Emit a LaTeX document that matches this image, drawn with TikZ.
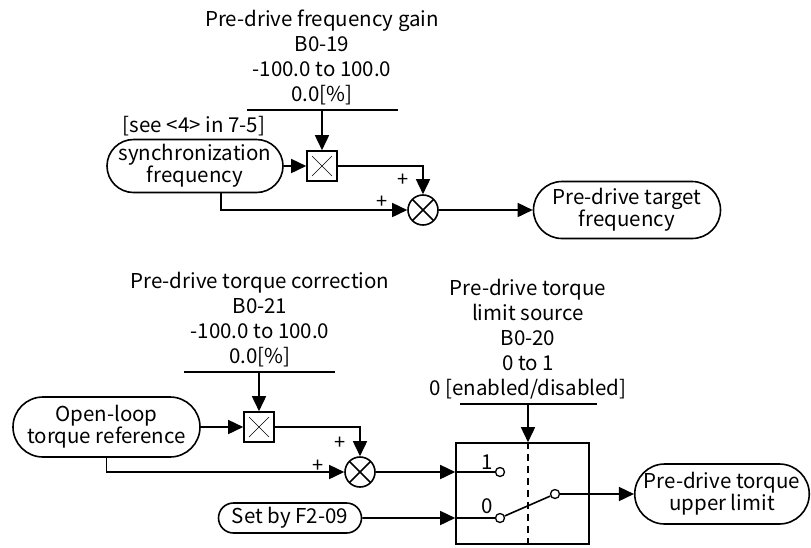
\documentclass[tikz,border=0pt]{standalone}
\usepackage{fontspec}
\setmainfont{Noto Sans CJK SC}
\usetikzlibrary{arrows.meta,shapes.misc}

\newcommand*{\lw}{1.6pt}
\newcommand*{\mulsize}{30pt}
\newcommand*{\sumsize}{30pt}

\begin{document}
\begin{tikzpicture}
[
	x=1pt,y=-1pt,line width=\lw,
	every node/.style={font=\fontsize{20.5}{25}\selectfont},
	param/.style={align=center,inner sep=0pt,anchor=south},
	signal/.style={rounded rectangle,draw,align=center,inner sep=0pt,font=\fontsize{20.5}{22}\selectfont},
	mulbox/.style={rectangle,draw,minimum size=\mulsize,inner sep=0pt,
		path picture={\draw[line width=0.6pt]
			([xshift=5pt,yshift=-5pt]path picture bounding box.north west) -- ([xshift=-5pt,yshift=5pt]path picture bounding box.south east)
			([xshift=5pt,yshift=5pt]path picture bounding box.south west) -- ([xshift=-5pt,yshift=-5pt]path picture bounding box.north east);}},
	sumpt/.style={circle,draw,minimum size=\sumsize,inner sep=0pt,
		path picture={\draw
			(path picture bounding box.north west) -- (path picture bounding box.south east)
			(path picture bounding box.south west) -- (path picture bounding box.north east);}},
	contact/.style={circle,draw,fill=white,minimum size=9pt,inner sep=0pt,line width=1.3pt},
	sign/.style={font=\fontsize{20}{20}\selectfont,inner sep=0pt},
	sig/.style={-{Triangle[length=15pt,width=14pt]}}
]

	\useasboundingbox (0,0) rectangle (811,547);

	% frequency path
	\node[param] (gainpar) at (322,106) {Pre-drive frequency gain\\B0-19\\-100.0 to 100.0\\0.0[\%]};
	\coordinate (gainbarl) at (247,110);
	\coordinate (gainbarr) at (398,110);
	\node[signal,minimum width=176pt,minimum height=53pt] (syncf) at (195,166) {synchronization\\frequency};
	\node[anchor=south,inner sep=0pt] (syncsee) at (194,137) {[see <4> in 7-5]};
	\node[mulbox] (gain1) at (322,166) {};
	\node[sumpt] (sum1) at (423,210) {};
	\node[signal,minimum width=187pt,minimum height=57pt] (target) at (627,210) {Pre-drive target\\frequency};
	\node[sign] (plus1a) at (403,180) {+};
	\node[sign] (plus1b) at (382,202) {+};

	\draw (gainbarl) -- (gainbarr);
	\draw[sig] (gainbarl -| gain1) -- (gain1);
	\draw[sig] (syncf) -- (gain1);
	\draw[sig] (gain1.east) -| (sum1.north);
	\draw[sig] ([xshift=26pt]syncf.south) |- (sum1.west);
	\draw[sig] (sum1) -- (target);

	% torque path
	\node[param] (corrpar) at (260,368) {Pre-drive torque correction\\B0-21\\-100.0 to 100.0\\0.0[\%]};
	\coordinate (corrbarl) at (184,372);
	\coordinate (corrbarr) at (335,372);
	\node[signal,minimum width=187pt,minimum height=60pt] (olref) at (106.5,427) {Open-loop\\torque reference};
	\node[mulbox] (gain2) at (259,427) {};
	\node[sumpt] (sum2) at (360,472) {};
	\node[signal,minimum width=143pt,minimum height=30pt] (f209) at (290,518) {Set by F2-09};
	\node[sign] (plus2a) at (340,443) {+};
	\node[sign] (plus2b) at (318,466) {+};

	\draw (corrbarl) -- (corrbarr);
	\draw[sig] (corrbarl -| gain2) -- (gain2);
	\draw[sig] (olref) -- (gain2);
	\draw[sig] (gain2.east) -| (sum2.north);
	\draw[sig] (olref.south) |- (sum2.west);

	% limit source switch
	\node[param] (srcpar) at (528,400) {Pre-drive torque\\limit source\\B0-20\\0 to 1\\0 [enabled/disabled]};
	\coordinate (srcbarl) at (460,404);
	\coordinate (srcbarr) at (597,404);
	\node[rectangle,draw,minimum width=133pt,minimum height=101pt,inner sep=0pt] (swbox) at (522.5,493.5) {};
	\coordinate (selx) at (528,404);
	\node[contact] (c1) at (500,472) {};
	\node[contact] (c0) at (500,518) {};
	\node[contact] (cout) at (555,494) {};
	\node[inner sep=0pt] (lbl1) at (487,462) {1};
	\node[inner sep=0pt] (lbl0) at (487,506) {0};
	\node[signal,minimum width=174pt,minimum height=60pt] (tqlim) at (722,494) {Pre-drive torque\\upper limit};

	\draw (srcbarl) -- (srcbarr);
	\draw[sig] (selx) -- (selx |- swbox.north);
	\draw[dash pattern=on 7pt off 5pt] (selx |- swbox.north) -- (selx |- swbox.south);
	\draw[sig] (sum2) -- (sum2 -| swbox.west);
	\draw (sum2 -| swbox.west) -- (c1);
	\draw[sig] (f209) -- (f209 -| swbox.west);
	\draw (f209 -| swbox.west) -- (c0);
	\draw (c0) -- (cout);
	\draw[sig] (cout) -- (tqlim);

\end{tikzpicture}
\end{document}
